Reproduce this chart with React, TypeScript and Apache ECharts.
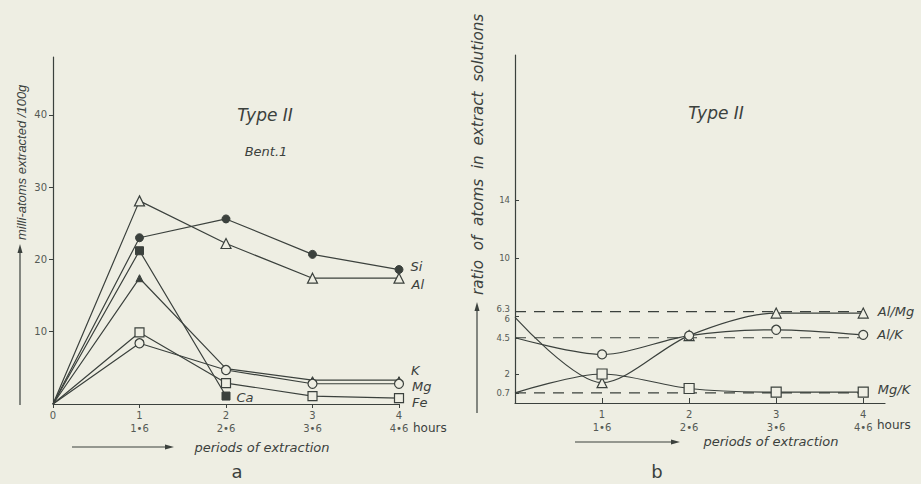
import React, { useEffect, useRef } from "react";
import * as echarts from "echarts";

// ---- data ----
const periods = [0, 1, 2, 3, 4];
const periodLabels = ["0", "1\n1•6", "2\n2•6", "3\n3•6", "4\n4•6"];

// panel a: milli-atoms extracted /100g
const siVals = [0, 23.0, 25.6, 20.7, 18.6];
const alVals = [0, 28.1, 22.2, 17.4, 17.4];
const caVals = [0, 21.2, 1.1];
const kVals = [0, 17.4, 4.9, 3.3, 3.3];
const mgVals = [0, 8.4, 4.7, 2.8, 2.8];
const feVals = [0, 9.9, 2.9, 1.1, 0.8];
const leftYTicks = [10, 20, 30, 40];

// panel b: ratio of atoms in extract solutions
const alMgVals = [5.9, 1.4, 4.65, 6.2, 6.2];
const alKVals = [4.5, 3.35, 4.65, 5.05, 4.7];
const mgKVals = [0.7, 2.0, 1.0, 0.75, 0.75];
const refLevels = [6.3, 4.5, 0.7];
const rightYTicks = [0.7, 2, 4.5, 6, 6.3, 10, 14];
// the close pair 6.3 / 6 is written as one stacked label between them
const rightYLabelValues = [0.7, 2, 4.5, 6.15, 10, 14];
const rightYLabelTexts = ["0.7", "2", "4.5", "6.3\n6", "10", "14"];
const rightXTicks = [1, 2, 3, 4];

const INK = "#3b413d";
const BG = "#eeeee3";
const FONT = "DejaVu Sans";
const IFONT = "Liberation Sans";

function build(vals: number[]) {
  return vals.map((v, i) => (i === 0 ? { value: [periods[i], v], symbol: "none" } : { value: [periods[i], v] }));
}

function withEndLabel(data: any[], idx: number, text: string, offset: number[]) {
  const d = data.slice();
  d[idx] = {
    ...d[idx],
    label: {
      show: true,
      position: "right",
      formatter: text,
      offset,
      color: INK,
      fontFamily: FONT,
      fontStyle: "italic",
      fontSize: 13,
    },
  };
  return d;
}

function lineSeries(
  name: string,
  data: any[],
  grid: number,
  symbol: string,
  size: number,
  filled: boolean,
  smooth: number | boolean = false
) {
  return {
    name,
    type: "line",
    xAxisIndex: grid,
    yAxisIndex: grid,
    data,
    smooth,
    symbol,
    symbolSize: size,
    showAllSymbol: true,
    lineStyle: { color: INK, width: 1.2 },
    itemStyle: filled
      ? { color: INK, borderColor: INK, borderWidth: 1 }
      : { color: BG, borderColor: INK, borderWidth: 1.2 },
    z: 3,
  };
}

export default function App() {
  const ref = useRef<HTMLDivElement>(null);

  useEffect(() => {
    document.body.style.margin = "0";
    document.body.style.background = BG;
    const chart = echarts.init(ref.current!, undefined, { renderer: "svg" });

    const axisLabelBase = { color: "#555a55", fontFamily: FONT, fontSize: 10 };

    const series: any[] = [
      // panel a
      lineSeries("Al", withEndLabel(build(alVals), 4, "Al", [2, 6]), 0, "triangle", 10, false),
      lineSeries("Si", withEndLabel(build(siVals), 4, "Si", [2, -3]), 0, "circle", 8, true),
      lineSeries("Ca", withEndLabel(build(caVals), 2, "Ca", [1, 1]), 0, "rect", 8, true),
      lineSeries("K", withEndLabel(build(kVals), 4, "K", [3, -10]), 0, "triangle", 7, true),
      lineSeries("Mg", withEndLabel(build(mgVals), 4, "Mg", [3, 3]), 0, "circle", 9, false),
      lineSeries("Fe", withEndLabel(build(feVals), 4, "Fe", [3, 4]), 0, "rect", 9, false),
      // panel b
      lineSeries("Al/Mg", withEndLabel(build(alMgVals), 4, "Al/Mg", [4, -2]), 1, "triangle", 10, false, 0.3),
      lineSeries("Al/K", withEndLabel(build(alKVals), 4, "Al/K", [4, 0]), 1, "circle", 9, false, 0.3),
      lineSeries("Mg/K", withEndLabel(build(mgKVals), 4, "Mg/K", [4, -3]), 1, "rect", 10, false, 0.3),
      ...refLevels.map((lv) => ({
        type: "line",
        xAxisIndex: 1,
        yAxisIndex: 1,
        data: [
          [0, lv],
          [4, lv],
        ],
        symbol: "none",
        lineStyle: { color: INK, width: 1.2, type: [11, 8] },
        z: 2,
        silent: true,
      })),
    ];

    const arrowH = (x1: number, x2: number, y: number) => [
      { type: "line", shape: { x1, y1: y, x2: x2 - 6, y2: y }, style: { stroke: INK, lineWidth: 1.2 } },
      { type: "polygon", shape: { points: [[x2, y], [x2 - 9, y - 2.5], [x2 - 9, y + 2.5]] }, style: { fill: INK } },
    ];
    const arrowV = (x: number, y1: number, y2: number) => [
      { type: "line", shape: { x1: x, y1, x2: x, y2: y2 + 6 }, style: { stroke: INK, lineWidth: 1.2 } },
      { type: "polygon", shape: { points: [[x, y2], [x - 2.5, y2 + 9], [x + 2.5, y2 + 9]] }, style: { fill: INK } },
    ];
    const txt = (text: string, x: number, y: number, size: number, opts: any = {}) => ({
      type: "text",
      x,
      y,
      rotation: opts.rotation || 0,
      style: {
        text,
        fill: INK,
        font: `${opts.italic === false ? "" : "italic "}${size}px '${opts.family || FONT}'`,
        textAlign: opts.align || "center",
        textVerticalAlign: "middle",
      },
    });

    chart.setOption({
      animation: false,
      backgroundColor: BG,
      grid: [
        { left: 53, top: 57, width: 346, height: 347 },
        { left: 515, top: 55, width: 370, height: 348 },
      ],
      xAxis: [
        {
          type: "value",
          gridIndex: 0,
          min: 0,
          max: 4,
          interval: 1,
          splitLine: { show: false },
          axisLine: { lineStyle: { color: INK, width: 1.2 } },
          axisTick: { length: 4, lineStyle: { color: INK } },
          axisLabel: {
            ...axisLabelBase,
            margin: 5,
            lineHeight: 13,
            verticalAlign: "top",
            formatter: (v: number) => periodLabels[v] ?? "",
          },
        },
        {
          type: "value",
          gridIndex: 1,
          min: 0,
          max: 4.25,
          splitLine: { show: false },
          axisLine: { lineStyle: { color: INK, width: 1.2 } },
          axisTick: { show: true, inside: true, length: 5, customValues: rightXTicks, lineStyle: { color: INK } },
          axisLabel: {
            ...axisLabelBase,
            margin: 5,
            lineHeight: 13,
            verticalAlign: "top",
            customValues: rightXTicks,
            formatter: (v: number) => periodLabels[Math.round(v)] ?? "",
          },
        },
      ],
      yAxis: [
        {
          type: "value",
          gridIndex: 0,
          min: 0,
          max: 48,
          splitLine: { show: false },
          axisLine: { show: true, lineStyle: { color: INK, width: 1.2 } },
          axisTick: { show: true, length: 4, customValues: leftYTicks, lineStyle: { color: INK } },
          axisLabel: { ...axisLabelBase, margin: 6, customValues: leftYTicks },
        },
        {
          type: "value",
          gridIndex: 1,
          min: 0,
          max: 24,
          splitLine: { show: false },
          axisLine: { show: true, lineStyle: { color: INK, width: 1.2 } },
          axisTick: { show: true, inside: true, length: 4, customValues: rightYTicks, lineStyle: { color: INK } },
          axisLabel: {
            ...axisLabelBase,
            fontSize: 8.5,
            lineHeight: 10,
            margin: 5,
            customValues: rightYLabelValues,
            hideOverlap: false,
            formatter: (v: number) => {
              const i = rightYLabelValues.indexOf(v);
              return i >= 0 ? rightYLabelTexts[i] : String(v);
            },
          },
        },
      ],
      series,
      graphic: [
        txt("Type II", 265, 115, 17),
        txt("Bent.1", 266, 151, 13),
        txt("Type II", 716, 113, 17),
        txt("hours", 413, 428, 12, { italic: false, align: "left" }),
        txt("hours", 877, 425, 12, { italic: false, align: "left" }),
        txt("periods of extraction", 262, 447, 13),
        txt("periods of extraction", 771, 441, 13),
        ...arrowH(72, 174, 447),
        ...arrowH(575, 680, 442),
        txt("a", 237, 471, 18, { italic: false }),
        txt("b", 657, 471, 18, { italic: false }),
        ...arrowV(20, 405, 244),
        txt("milli-atoms extracted /100g", 21, 240, 13, {
          rotation: Math.PI / 2,
          align: "left",
          family: IFONT,
        }),
        ...arrowV(477, 413, 302),
        txt("ratio  of  atoms  in  extract  solutions", 478, 295, 15.2, {
          rotation: Math.PI / 2,
          align: "left",
        }),
      ],
    });

    return () => chart.dispose();
  }, []);

  return <div ref={ref} style={{ width: 921, height: 484 }} />;
}
